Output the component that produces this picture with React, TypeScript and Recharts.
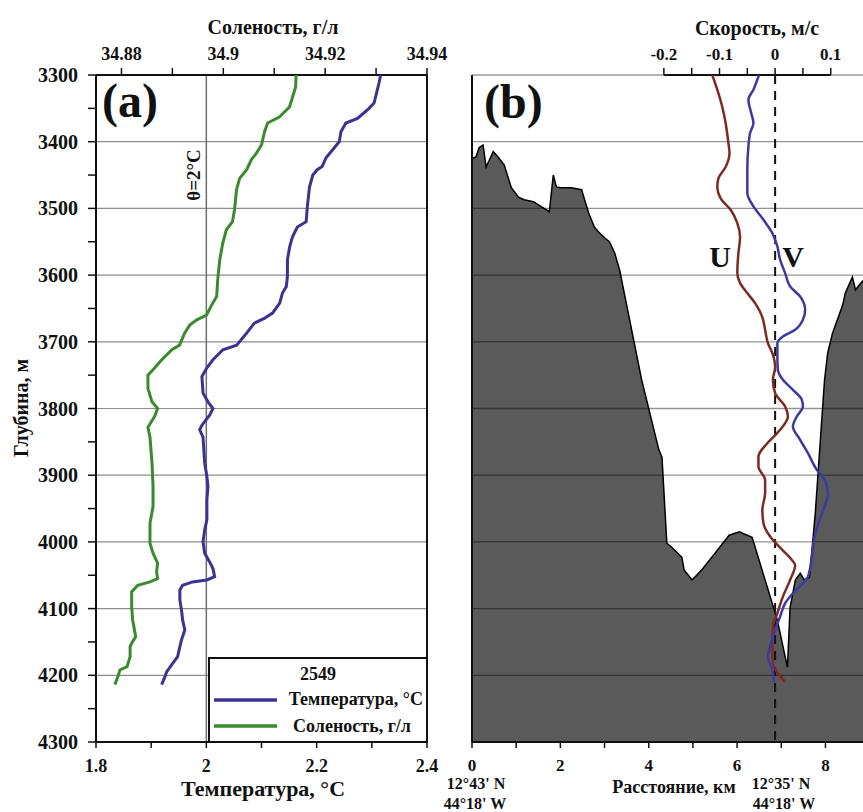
import React from 'react';
import { ComposedChart, Scatter, Area, XAxis, YAxis, ReferenceLine } from 'recharts';

const FONT = '"Liberation Serif", "Times New Roman", serif';
const INK = '#111';

// station 2549: [depth m, potential temperature °C]
const temperature: [number, number][] = [
  [3300, 2.316], [3312, 2.313], [3342, 2.304], [3350, 2.295], [3365, 2.274], [3372, 2.253],
  [3385, 2.244], [3400, 2.241], [3409, 2.232], [3424, 2.217], [3437, 2.21], [3442, 2.201],
  [3450, 2.193], [3468, 2.187], [3498, 2.183], [3520, 2.181], [3528, 2.165], [3543, 2.156],
  [3558, 2.151], [3577, 2.147], [3602, 2.147], [3617, 2.145], [3627, 2.138], [3642, 2.133],
  [3657, 2.12], [3665, 2.105], [3672, 2.087], [3687, 2.073], [3705, 2.055], [3712, 2.03],
  [3727, 2.012], [3739, 2.001], [3752, 1.992], [3777, 1.994], [3790, 2.003], [3800, 2.012],
  [3810, 2.006], [3825, 1.992], [3832, 1.988], [3843, 1.994], [3882, 1.997], [3902, 2.001],
  [3917, 2.003], [3937, 2.001], [3967, 2.001], [3982, 1.997], [4000, 1.994], [4017, 1.997],
  [4030, 2.006], [4040, 2.012], [4052, 2.015], [4057, 2.001], [4060, 1.975], [4065, 1.957],
  [4072, 1.952], [4087, 1.952], [4102, 1.955], [4117, 1.957], [4132, 1.961], [4147, 1.955],
  [4157, 1.952], [4172, 1.948], [4182, 1.939], [4195, 1.928], [4202, 1.925], [4214, 1.919],
];

// [depth m, salinity]
const salinity: [number, number][] = [
  [3300, 34.9143], [3318, 34.9142], [3333, 34.9136], [3348, 34.913], [3363, 34.911], [3372, 34.9087],
  [3385, 34.9081], [3405, 34.9075], [3417, 34.9065], [3427, 34.9055], [3442, 34.9046], [3455, 34.9032],
  [3472, 34.9026], [3502, 34.9022], [3520, 34.9018], [3532, 34.9006], [3552, 34.8999], [3577, 34.8993],
  [3607, 34.8989], [3632, 34.8987], [3645, 34.8977], [3660, 34.8967], [3667, 34.8948], [3675, 34.8934],
  [3687, 34.8924], [3705, 34.8914], [3712, 34.8899], [3727, 34.8879], [3742, 34.8862], [3750, 34.8852],
  [3770, 34.8852], [3790, 34.886], [3800, 34.8871], [3812, 34.8865], [3828, 34.8852], [3843, 34.8856],
  [3882, 34.886], [3917, 34.8862], [3947, 34.8862], [3972, 34.8856], [4002, 34.8856], [4017, 34.8862],
  [4032, 34.8871], [4045, 34.8869], [4055, 34.8871], [4060, 34.8856], [4065, 34.8832], [4075, 34.882],
  [4097, 34.882], [4117, 34.8822], [4142, 34.8828], [4152, 34.882], [4157, 34.8817], [4172, 34.8817],
  [4187, 34.8811], [4192, 34.8797], [4202, 34.8793], [4214, 34.8787],
];

// [depth m, velocity m/s]
const velocityU: [number, number][] = [
  [3300, -0.113], [3322, -0.104], [3348, -0.095], [3372, -0.089], [3402, -0.084], [3417, -0.082],
  [3438, -0.089], [3455, -0.102], [3468, -0.104], [3485, -0.098], [3502, -0.08], [3522, -0.068],
  [3543, -0.063], [3567, -0.066], [3597, -0.068], [3612, -0.063], [3627, -0.05], [3642, -0.036],
  [3663, -0.023], [3682, -0.018], [3702, -0.013], [3717, -0.005], [3738, 0.0], [3757, -0.004],
  [3777, 0.0], [3797, 0.018], [3812, 0.023], [3832, 0.009], [3852, -0.014], [3872, -0.03],
  [3887, -0.03], [3907, -0.018], [3927, -0.018], [3952, -0.023], [3972, -0.021], [3992, -0.009],
  [4012, 0.013], [4027, 0.03], [4035, 0.036], [4057, 0.027], [4082, 0.014], [4107, 0.004],
  [4127, -0.004], [4152, -0.005], [4182, -0.004], [4197, 0.005], [4210, 0.018],
];

const velocityV: [number, number][] = [
  [3300, -0.029], [3322, -0.039], [3337, -0.048], [3357, -0.043], [3372, -0.039], [3387, -0.045],
  [3407, -0.048], [3442, -0.05], [3477, -0.05], [3497, -0.039], [3517, -0.021], [3537, -0.005],
  [3557, 0.004], [3577, 0.009], [3597, 0.018], [3617, 0.027], [3632, 0.045], [3652, 0.054],
  [3667, 0.05], [3682, 0.036], [3692, 0.014], [3702, 0.004], [3722, 0.004], [3742, 0.005],
  [3757, 0.014], [3772, 0.032], [3787, 0.048], [3797, 0.05], [3812, 0.039], [3827, 0.032],
  [3847, 0.045], [3867, 0.059], [3892, 0.075], [3907, 0.089], [3927, 0.095], [3947, 0.089],
  [3967, 0.08], [3992, 0.071], [4022, 0.066], [4052, 0.059], [4062, 0.05], [4077, 0.032],
  [4092, 0.018], [4112, 0.009], [4132, 0.0], [4157, -0.009], [4172, -0.013], [4192, -0.005],
  [4210, -0.002],
];

// bottom profile along the section: [distance km, depth m]
const bathymetry: [number, number][] = [
  [0, 3425], [0.09, 3423], [0.16, 3409], [0.25, 3405], [0.32, 3438], [0.48, 3415], [0.59, 3423],
  [0.73, 3435], [0.89, 3469], [1.05, 3483], [1.18, 3487], [1.39, 3490], [1.75, 3505], [1.84, 3450],
  [1.91, 3468], [2.02, 3469], [2.25, 3469], [2.48, 3472], [2.64, 3507], [2.77, 3528], [2.86, 3535],
  [3.0, 3544], [3.11, 3550], [3.23, 3567], [3.34, 3592], [3.84, 3757], [4.23, 3862], [4.3, 3873],
  [4.41, 4002], [4.52, 4008], [4.75, 4023], [4.8, 4042], [4.98, 4057], [5.2, 4042], [5.5, 4017],
  [5.82, 3990], [6.05, 3985], [6.34, 3993], [6.91, 4117], [7.14, 4188], [7.2, 4098], [7.32, 4057],
  [7.43, 4047], [7.52, 4057], [7.64, 4053], [7.77, 3957], [7.98, 3757], [8.05, 3717], [8.16, 3687],
  [8.39, 3645], [8.45, 3627], [8.61, 3603], [8.68, 3622], [8.85, 3608],
];

const depthTicks = [3300, 3350, 3400, 3450, 3500, 3550, 3600, 3650, 3700, 3750, 3800, 3850, 3900, 3950, 4000, 4050, 4100, 4150, 4200, 4250, 4300];
const depthLabels = depthTicks.map((d) => (d % 100 === 0 ? String(d) : ''));
const gridDepths = [3400, 3500, 3600, 3700, 3800, 3900, 4000, 4100, 4200];
const tempTicks = [1.8, 1.9, 2, 2.1, 2.2, 2.3, 2.4];
const tempLabels = ['1.8', '', '2', '', '2.2', '', '2.4'];
const salTicks = [34.88, 34.89, 34.9, 34.91, 34.92, 34.93, 34.94];
const salLabels = ['34.88', '', '34.9', '', '34.92', '', '34.94'];
const velTicks = [-0.2, -0.15, -0.1, -0.05, 0, 0.05, 0.1];
const velLabels = ['-0.2', '', '-0.1', '', '0', '', '0.1'];
const distTicks = [0, 1, 2, 3, 4, 5, 6, 7, 8];
const distLabels = ['0', '', '2', '', '4', '', '6', '', '8'];

const tempData = temperature.map(([depth, t]) => ({ depth, t }));
const salData = salinity.map(([depth, s]) => ({ depth, s }));
const uData = velocityU.map(([depth, vel]) => ({ depth, vel }));
const vData = velocityV.map(([depth, vel]) => ({ depth, vel }));
const bottomData = bathymetry.map(([dist, depth]) => ({ dist, depth }));

const noDot = () => <g />;

function AxisTick(props: any) {
  const { x, y, index, labels, side, size = 18 } = props;
  const text = labels[index];
  if (!text) return <g />;
  const common = { fontFamily: FONT, fontWeight: 700, fontSize: size, fill: INK };
  if (side === 'left')
    return <text x={x} y={y} dy="0.35em" textAnchor="end" {...common}>{text}</text>;
  if (side === 'top')
    return <text x={x} y={y} textAnchor="middle" {...common}>{text}</text>;
  return <text x={x} y={y} dy="0.75em" textAnchor="middle" {...common}>{text}</text>;
}

function ThetaLabel(props: any) {
  const { viewBox } = props;
  const x = viewBox.x - 6;
  const y = viewBox.y + 100;
  return (
    <text transform={`translate(${x},${y}) rotate(-90)`} textAnchor="middle" fontFamily={FONT} fontWeight={700} fontSize={19} fill={INK}>
      θ=2°C
    </text>
  );
}

const axisLineStyle = { stroke: INK, strokeWidth: 2 };

const TEMP_COLOR = '#3b3391';
const SAL_COLOR = '#3a8a2e';
const U_COLOR = '#7d2a22';
const V_COLOR = '#3c3aa0';

function Label({ x, y, size = 17, anchor = 'middle', transform, children }: any) {
  return (
    <text x={x} y={y} transform={transform} textAnchor={anchor} fontFamily={FONT} fontWeight={700} fontSize={size} fill={INK}>
      {children}
    </text>
  );
}

export default function App() {
  return (
    <div style={{ position: 'absolute', left: 0, top: 0, width: 863, height: 812, background: '#fff', overflow: 'hidden' }}>
      <div style={{ position: 'absolute', left: 0, top: 0 }}>
        <ComposedChart width={480} height={812} margin={{ top: 45, right: 53, bottom: 40, left: 36 }}>
          <XAxis
            xAxisId="s"
            orientation="top"
            type="number"
            dataKey="s"
            domain={[34.875, 34.94]}
            allowDataOverflow
            ticks={salTicks}
            interval={0}
            height={30}
            tickSize={7}
            tickMargin={8}
            axisLine={axisLineStyle}
            tickLine={{ stroke: INK, strokeWidth: 1.5 }}
            tick={<AxisTick labels={salLabels} side="top" />}
          />
          <XAxis
            xAxisId="t"
            orientation="bottom"
            type="number"
            dataKey="t"
            domain={[1.8, 2.4]}
            allowDataOverflow
            ticks={tempTicks}
            interval={0}
            height={30}
            tickSize={6}
            tickMargin={10}
            axisLine={axisLineStyle}
            tickLine={{ stroke: INK, strokeWidth: 1.5 }}
            tick={<AxisTick labels={tempLabels} side="bottom" />}
          />
          <YAxis
            type="number"
            dataKey="depth"
            reversed
            domain={[3300, 4300]}
            allowDataOverflow
            ticks={depthTicks}
            interval={0}
            width={60}
            tickSize={8}
            tickMargin={10}
            axisLine={axisLineStyle}
            tickLine={{ stroke: INK, strokeWidth: 1.5 }}
            tick={<AxisTick labels={depthLabels} side="left" size={20} />}
          />
          {gridDepths.map((d) => (
            <ReferenceLine key={d} xAxisId="t" y={d} stroke="#8c8c8c" strokeWidth={1.2} />
          ))}
          <ReferenceLine xAxisId="t" x={2} stroke="#6e6e6e" strokeWidth={1.5} label={<ThetaLabel />} />
          <ReferenceLine xAxisId="t" x={2.4} stroke={INK} strokeWidth={2} />
          <Scatter
            xAxisId="t"
            data={tempData}
            shape={noDot}
            line={{ stroke: TEMP_COLOR, strokeWidth: 3 }}
            lineType="joint"
            isAnimationActive={false}
          />
          <Scatter
            xAxisId="s"
            data={salData}
            shape={noDot}
            line={{ stroke: SAL_COLOR, strokeWidth: 3 }}
            lineType="joint"
            isAnimationActive={false}
          />
        </ComposedChart>
      </div>

      <div style={{ position: 'absolute', left: 440, top: 0 }}>
        <ComposedChart width={423} height={812} margin={{ top: 45, right: 0, bottom: 40, left: 12 }}>
          <XAxis
            xAxisId="v"
            orientation="top"
            type="number"
            dataKey="vel"
            domain={[-0.545, 0.158]}
            allowDataOverflow
            ticks={velTicks}
            interval={0}
            height={30}
            tickSize={7}
            tickMargin={8}
            axisLine={false}
            tickLine={{ stroke: INK, strokeWidth: 1.5 }}
            tick={<AxisTick labels={velLabels} side="top" size={17} />}
          />
          <XAxis
            xAxisId="d"
            orientation="bottom"
            type="number"
            dataKey="dist"
            domain={[0, 8.85]}
            allowDataOverflow
            ticks={distTicks}
            interval={0}
            height={30}
            tickSize={6}
            tickMargin={10}
            axisLine={axisLineStyle}
            tickLine={{ stroke: INK, strokeWidth: 1.5 }}
            tick={<AxisTick labels={distLabels} side="bottom" size={17} />}
          />
          <YAxis
            type="number"
            dataKey="depth"
            reversed
            domain={[3300, 4300]}
            allowDataOverflow
            ticks={depthTicks}
            interval={0}
            width={20}
            tickSize={8}
            axisLine={axisLineStyle}
            tickLine={{ stroke: INK, strokeWidth: 1.5 }}
            tick={false}
          />
          <Area
            xAxisId="d"
            data={bottomData}
            dataKey="depth"
            type="linear"
            baseValue="dataMax"
            fill="#5a5a5a"
            fillOpacity={1}
            stroke="#000"
            strokeWidth={1.5}
            dot={false}
            activeDot={false}
            isAnimationActive={false}
          />
          <ReferenceLine xAxisId="d" y={3300} stroke="#9a9a9a" strokeWidth={1.5} />
          {gridDepths.map((d) => (
            <ReferenceLine key={d} xAxisId="d" y={d} stroke="#000" strokeOpacity={0.42} strokeWidth={1.3} />
          ))}
          <ReferenceLine
            xAxisId="v"
            segment={[{ x: -0.2, y: 3300 }, { x: 0.1, y: 3300 }]}
            stroke={INK}
            strokeWidth={2}
          />
          <ReferenceLine xAxisId="v" x={0} stroke={INK} strokeWidth={2} strokeDasharray="9 7" />
          <Scatter
            xAxisId="v"
            data={uData}
            shape={noDot}
            line={{ stroke: U_COLOR, strokeWidth: 2.5 }}
            lineType="joint"
            lineJointType="monotoneY"
            isAnimationActive={false}
          />
          <Scatter
            xAxisId="v"
            data={vData}
            shape={noDot}
            line={{ stroke: V_COLOR, strokeWidth: 2.5 }}
            lineType="joint"
            lineJointType="monotoneY"
            isAnimationActive={false}
          />
        </ComposedChart>
      </div>

      <svg width={863} height={812} style={{ position: 'absolute', left: 0, top: 0, pointerEvents: 'none' }}>
        <Label x={273} y={34} size={20}>Соленость, г/л</Label>
        <Label x={757} y={35} size={20}>Скорость, м/с</Label>
        <Label x={0} y={0} size={20} transform="translate(28,408) rotate(-90)">Глубина, м</Label>
        <Label x={102} y={117} size={48} anchor="start">(a)</Label>
        <Label x={484} y={118} size={48} anchor="start">(b)</Label>
        <Label x={720} y={267} size={30}>U</Label>
        <Label x={793} y={267} size={30}>V</Label>
        <Label x={263} y={796} size={22}>Температура, °C</Label>
        <Label x={476} y={789} size={16}>12°43' N</Label>
        <Label x={475} y={809} size={16}>44°18' W</Label>
        <Label x={674} y={793} size={18}>Расстояние, км</Label>
        <Label x={781} y={789} size={16}>12°35' N</Label>
        <Label x={784} y={809} size={16}>44°18' W</Label>

        <g>
          <rect x={209} y={658} width={218} height={84} fill="#fff" stroke={INK} strokeWidth={2} />
          <Label x={318} y={680} size={18}>2549</Label>
          <line x1={214} x2={277} y1={700} y2={700} stroke={TEMP_COLOR} strokeWidth={3.5} />
          <Label x={423} y={705} size={18} anchor="end">Температура, °C</Label>
          <line x1={214} x2={277} y1={726} y2={726} stroke={SAL_COLOR} strokeWidth={3.5} />
          <Label x={352} y={732} size={18}>Соленость, г/л</Label>
        </g>
      </svg>
    </div>
  );
}
